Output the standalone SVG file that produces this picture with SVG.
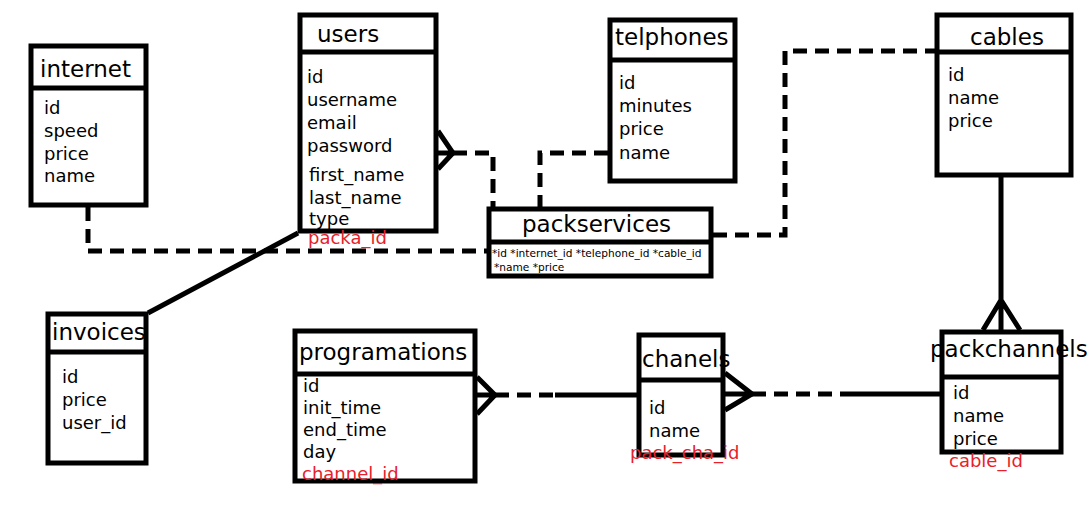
<svg xmlns="http://www.w3.org/2000/svg" width="1091" height="511" viewBox="0 0 1091 511">
<style>
.box{fill:#fff;stroke:#000;stroke-width:5}
.div{stroke:#000;stroke-width:5}
.t{font-family:"DejaVu Sans",sans-serif;font-size:23px;fill:#000}
.f{font-family:"DejaVu Sans",sans-serif;font-size:18px;fill:#000}
.r{font-family:"DejaVu Sans",sans-serif;font-size:18px;fill:#e8202a}
.s{font-family:"DejaVu Sans",sans-serif;font-size:10.6px;fill:#000}
.solid{fill:none;stroke:#000;stroke-width:5}
.dash{fill:none;stroke:#000;stroke-width:5;stroke-dasharray:14 8}
</style>
<rect width="1091" height="511" fill="#fff"/>
<g id="connectors">
<path class="dash" d="M88 207 V251 H487"/>
<path class="solid" d="M148 313 L298 233"/>
<path class="dash" d="M453 153 H493 V207"/>
<path class="solid" d="M438 131 L453 153 L438 169 M438 153 H453"/>
<path class="dash" d="M608 153 H540 V207"/>
<path class="dash" d="M713 235 H785 V51 H935"/>
<path class="solid" d="M1001 177 V330 M983 330 L1001 300 L1020 330"/>
<path class="solid" d="M477 377 L495 395 L477 414 M477 395 H495"/>
<path class="dash" d="M495 395 H555" stroke-dasharray="15 10"/>
<path class="solid" d="M555 395 H637"/>
<path class="solid" d="M725 373 L752 394 L725 410 M725 394 H752"/>
<path class="dash" d="M752 394 H845" stroke-dasharray="15 10"/>
<path class="solid" d="M845 394 H940"/>
</g>
<g id="internet">
<rect class="box" x="31" y="46" width="115" height="159"/>
<line class="div" x1="31" y1="88" x2="146" y2="88"/>
<text class="t" x="40" y="77">internet</text>
<text class="f" x="44" y="114">id</text>
<text class="f" x="44" y="137">speed</text>
<text class="f" x="44" y="160">price</text>
<text class="f" x="44" y="182">name</text>
</g>
<g id="users">
<rect class="box" x="300" y="15" width="136" height="216"/>
<line class="div" x1="300" y1="52" x2="436" y2="52"/>
<text class="t" x="317" y="42">users</text>
<text class="f" x="307" y="83">id</text>
<text class="f" x="307" y="106">username</text>
<text class="f" x="307" y="129">email</text>
<text class="f" x="307" y="152">password</text>
<text class="f" x="309" y="181">first_name</text>
<text class="f" x="309" y="204">last_name</text>
<text class="f" x="309" y="225">type</text>
<text class="r" x="308" y="244">packa_id</text>
</g>
<g id="telphones">
<rect class="box" x="610" y="20" width="125" height="161"/>
<line class="div" x1="610" y1="60" x2="735" y2="60"/>
<text class="t" x="615" y="45">telphones</text>
<text class="f" x="619" y="89">id</text>
<text class="f" x="619" y="112">minutes</text>
<text class="f" x="619" y="135">price</text>
<text class="f" x="619" y="159">name</text>
</g>
<g id="packservices">
<rect class="box" x="489" y="209" width="222" height="67"/>
<line class="div" x1="489" y1="242" x2="711" y2="242"/>
<text class="t" x="522" y="232">packservices</text>
<text class="s" x="492" y="257">*id *internet_id *telephone_id *cable_id</text>
<text class="s" x="494" y="271">*name *price</text>
</g>
<g id="cables">
<rect class="box" x="937" y="15" width="134" height="160"/>
<line class="div" x1="937" y1="52" x2="1071" y2="52"/>
<text class="t" x="970" y="45">cables</text>
<text class="f" x="948" y="81">id</text>
<text class="f" x="948" y="104">name</text>
<text class="f" x="948" y="127">price</text>
</g>
<g id="invoices">
<rect class="box" x="48" y="314" width="98" height="149"/>
<line class="div" x1="48" y1="352" x2="146" y2="352"/>
<text class="t" x="52" y="340">invoices</text>
<text class="f" x="62" y="383">id</text>
<text class="f" x="62" y="406">price</text>
<text class="f" x="62" y="429">user_id</text>
</g>
<g id="programations">
<rect class="box" x="295" y="331" width="180" height="150"/>
<line class="div" x1="295" y1="374" x2="475" y2="374"/>
<text class="t" x="299" y="360">programations</text>
<text class="f" x="303" y="392">id</text>
<text class="f" x="303" y="414">init_time</text>
<text class="f" x="303" y="436">end_time</text>
<text class="f" x="303" y="458">day</text>
<text class="r" x="302" y="480">channel_id</text>
</g>
<g id="chanels">
<rect class="box" x="639" y="335" width="84" height="120"/>
<line class="div" x1="639" y1="380" x2="723" y2="380"/>
<text class="t" x="642" y="367">chanels</text>
<text class="f" x="649" y="414">id</text>
<text class="f" x="649" y="437">name</text>
<text class="r" x="630" y="459">pack_cha_id</text>
</g>
<g id="packchannels">
<rect class="box" x="942" y="332" width="119" height="120"/>
<line class="div" x1="942" y1="377" x2="1061" y2="377"/>
<text class="t" x="930" y="357">packchannels</text>
<text class="f" x="953" y="399">id</text>
<text class="f" x="953" y="422">name</text>
<text class="f" x="953" y="445">price</text>
<text class="r" x="949" y="467">cable_id</text>
</g>
</svg>
